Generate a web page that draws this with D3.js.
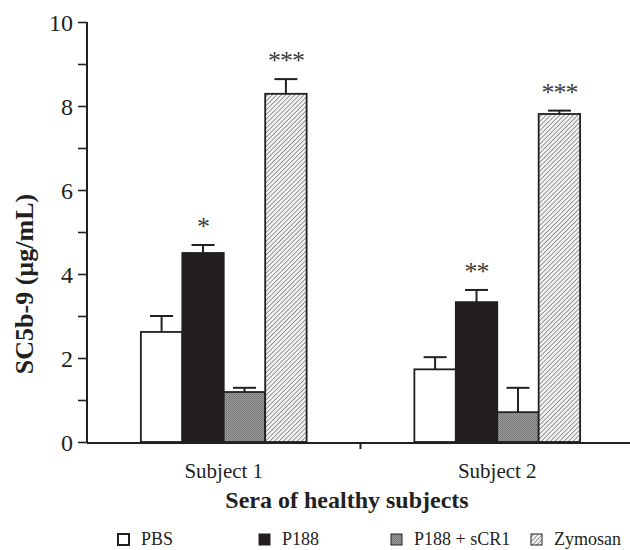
<!DOCTYPE html>
<html>

<head>
    <meta charset="utf-8">
    <script src="https://d3js.org/d3.v7.min.js"></script>
    <title>SC5b-9</title>
    <style>
        body {
            margin: 0;
            background: #fff;
        }

        text {
            font-family: "Liberation Serif", "Times New Roman", serif;
            fill: #231f20;
        }
    </style>
</head>

<body>
    <div id="chart"></div>

    <script>
        // values
        const subjects = ["Subject 1", "Subject 2"];
        const series = ["PBS", "P188", "P188 + sCR1", "Zymosan"];
        const meanPBS = [2.62, 1.73];
        const meanP188 = [4.50, 3.33];
        const meanSCR1 = [1.19, 0.71];
        const meanZym = [8.29, 7.81];
        const errPBS = [0.38, 0.29];
        const errP188 = [0.19, 0.29];
        const errSCR1 = [0.10, 0.58];
        const errZym = [0.35, 0.08];
        const starsP188 = ["*", "**"];
        const starsZym = ["***", "***"];
        const yTicks = [0, 2, 4, 6, 8, 10];

        const width = 630;
        const height = 550;
        const mLeft = 87, mRight = 634, mTop = 22, mBottom = 442;

        const means = [meanPBS, meanP188, meanSCR1, meanZym];
        const errs = [errPBS, errP188, errSCR1, errZym];
        const stars = [[], starsP188, [], starsZym];

        const data = [];
        subjects.forEach((s, i) => {
            series.forEach((k, j) => {
                data.push({ subject: s, key: k, v: means[j][i], e: errs[j][i], star: stars[j][i] || "" });
            });
        });

        const svg = d3.select("#chart").append("svg")
            .attr("width", width)
            .attr("height", height);

        // fills
        const defs = svg.append("defs");
        const dots = defs.append("pattern")
            .attr("id", "dots")
            .attr("patternUnits", "userSpaceOnUse")
            .attr("width", 2).attr("height", 2);
        dots.append("rect").attr("width", 2).attr("height", 2).attr("fill", "#a0a0a0");
        dots.append("rect").attr("width", 1).attr("height", 1).attr("fill", "#6e6e6e");
        dots.append("rect").attr("x", 1).attr("y", 1).attr("width", 1).attr("height", 1).attr("fill", "#7a7a7a");

        const hatch = defs.append("pattern")
            .attr("id", "hatch")
            .attr("patternUnits", "userSpaceOnUse")
            .attr("width", 3.2).attr("height", 3.2)
            .attr("patternTransform", "rotate(45)");
        hatch.append("rect").attr("width", 3.2).attr("height", 3.2).attr("fill", "#f2f2f2");
        hatch.append("line")
            .attr("x1", 0).attr("y1", 0).attr("x2", 0).attr("y2", 3.2)
            .attr("stroke", "#6a6a6a").attr("stroke-width", 1.3);

        const fills = { "PBS": "#fff", "P188": "#231f20", "P188 + sCR1": "url(#dots)", "Zymosan": "url(#hatch)" };

        const x0 = d3.scaleBand()
            .domain(subjects)
            .range([mLeft, mRight]);

        const x1 = d3.scaleBand()
            .domain(series)
            .range([0, x0.bandwidth()])
            .paddingOuter(1.3);

        const y = d3.scaleLinear()
            .domain([0, 10])
            .range([mBottom, mTop]);

        // bars
        svg.append("g")
            .selectAll("rect")
            .data(data)
            .join("rect")
            .attr("x", d => x0(d.subject) + x1(d.key))
            .attr("y", d => y(d.v))
            .attr("width", x1.bandwidth())
            .attr("height", d => y(0) - y(d.v))
            .attr("fill", d => fills[d.key])
            .attr("stroke", "#231f20")
            .attr("stroke-width", 1.8);

        // error bars (upper only)
        const eb = svg.append("g")
            .attr("stroke", "#231f20")
            .attr("stroke-width", 2)
            .selectAll("g")
            .data(data)
            .join("g")
            .attr("transform", d => `translate(${x0(d.subject) + x1(d.key) + x1.bandwidth() / 2},0)`);

        eb.append("line")
            .attr("y1", d => y(d.v))
            .attr("y2", d => y(d.v + d.e));

        eb.append("line")
            .attr("x1", -11.5)
            .attr("x2", 11.5)
            .attr("y1", d => y(d.v + d.e))
            .attr("y2", d => y(d.v + d.e));

        // significance marks
        svg.append("g")
            .selectAll("text")
            .data(data.filter(d => d.star))
            .join("text")
            .attr("x", d => x0(d.subject) + x1(d.key) + x1.bandwidth() / 2)
            .attr("y", d => y(d.v + d.e) - 10)
            .attr("text-anchor", "middle")
            .style("font-size", "26px")
            .style("letter-spacing", "-1px")
            .style("fill", "#3c3c3c")
            .text(d => d.star);

        // y axis
        const yAxis = svg.append("g")
            .attr("transform", `translate(${mLeft},0)`)
            .call(d3.axisLeft(y).ticks(10).tickSize(9).tickPadding(5)
                .tickFormat(d => yTicks.includes(d) ? d : ""));
        yAxis.select(".domain").attr("d", `M0,${mTop}V${mBottom}`).attr("stroke", "#231f20").attr("stroke-width", 2);
        yAxis.selectAll(".tick line").attr("stroke", "#231f20").attr("stroke-width", 1.6);
        yAxis.selectAll(".tick text")
            .style("font-size", "24px")
            .attr("dy", "0.34em")
            .style("fill", "#231f20");

        // x axis
        const xAxis = svg.append("g")
            .attr("transform", `translate(0,${mBottom + 1})`)
            .call(d3.axisBottom(x0).tickSize(0).tickPadding(20));
        xAxis.select(".domain").attr("d", `M${mLeft},0H${mRight}`).attr("stroke", "#231f20").attr("stroke-width", 2);
        xAxis.selectAll(".tick text")
            .style("font-size", "21px")
            .style("fill", "#231f20");
        xAxis.append("line")
            .attr("x1", x0(subjects[1]))
            .attr("x2", x0(subjects[1]))
            .attr("y1", 0)
            .attr("y2", 6)
            .attr("stroke", "#231f20")
            .attr("stroke-width", 2);

        // axis titles
        svg.append("text")
            .attr("transform", "translate(33,284) rotate(-90)")
            .attr("text-anchor", "middle")
            .style("font-size", "26px")
            .style("font-weight", "bold")
            .text("SC5b-9 (µg/mL)");

        svg.append("text")
            .attr("x", 347)
            .attr("y", 508)
            .attr("text-anchor", "middle")
            .style("font-size", "24px")
            .style("font-weight", "bold")
            .text("Sera of healthy subjects");

        // legend
        const legendX = [117, 258, 390, 530];
        const legend = svg.append("g")
            .selectAll("g")
            .data(series)
            .join("g")
            .attr("transform", (d, i) => `translate(${legendX[i]},533)`);

        legend.append("rect")
            .attr("x", 1).attr("y", 1)
            .attr("width", 11).attr("height", 11)
            .attr("fill", d => fills[d])
            .attr("stroke", "#231f20")
            .attr("stroke-width", d => d === "PBS" ? 2 : 1);

        legend.append("text")
            .attr("x", 24)
            .attr("y", 12)
            .style("font-size", "18px")
            .text(d => d);
    </script>

</body>

</html>
